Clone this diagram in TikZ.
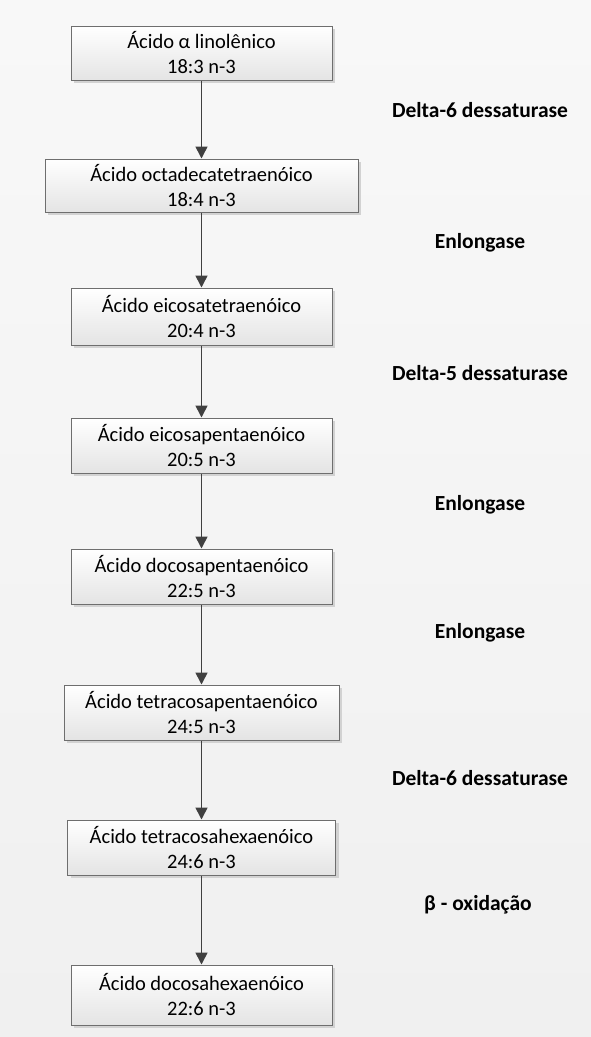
\documentclass[tikz,border=0pt]{standalone}
\usepackage{fontspec}
\setmainfont{Carlito}
\usetikzlibrary{shadows,arrows.meta}
\definecolor{bgtop}{HTML}{F8F8F8}
\definecolor{bgbot}{HTML}{F0F0F0}
\definecolor{boxline}{HTML}{6E6E6E}
\definecolor{boxbot}{HTML}{E4E4E4}
\definecolor{shadowc}{HTML}{D2D2D2}
\definecolor{arrowc}{HTML}{404040}
\begin{document}
\begin{tikzpicture}[x=1pt,y=-1pt,
  box/.style={draw=boxline, line width=1pt, top color=white, bottom color=boxbot,
    align=center, font=\fontsize{20.5}{25}\selectfont, inner sep=0pt,
    drop shadow={shadow xshift=3pt,shadow yshift=-3pt,fill=shadowc,opacity=1}},
  arr/.style={draw=arrowc, line width=1.6pt, -{Triangle[length=12pt,width=12pt]}},
  lab/.style={font=\fontsize{21.5}{25}\selectfont\bfseries, text=black}]
\useasboundingbox (0,0) rectangle (591,1037);
\shade[top color=bgtop, bottom color=bgbot] (0,0) rectangle (591,1037);

\node[box, minimum width=261pt, minimum height=54pt] (b1) at (201.5,53) {Ácido α linolênico\\18:3 n-3};
\node[box, minimum width=313pt, minimum height=53pt] (b2) at (201.5,185.5) {Ácido octadecatetraenóico\\18:4 n-3};
\node[box, minimum width=261pt, minimum height=57pt] (b3) at (201.5,316.5) {Ácido eicosatetraenóico\\20:4 n-3};
\node[box, minimum width=261pt, minimum height=55pt] (b4) at (201.5,445.5) {Ácido eicosapentaenóico\\20:5 n-3};
\node[box, minimum width=261pt, minimum height=55pt] (b5) at (201.5,576.5) {Ácido docosapentaenóico\\22:5 n-3};
\node[box, minimum width=275pt, minimum height=55pt] (b6) at (201.5,712.5) {Ácido tetracosapentaenóico\\24:5 n-3};
\node[box, minimum width=268pt, minimum height=55pt] (b7) at (201.5,847.5) {Ácido tetracosahexaenóico\\24:6 n-3};
\node[box, minimum width=261pt, minimum height=60pt] (b8) at (201.5,995) {Ácido docosahexaenóico\\22:6 n-3};

\draw[arr] (b1.south) -- (b2.north);
\draw[arr] (b2.south) -- (b3.north);
\draw[arr] (b3.south) -- (b4.north);
\draw[arr] (b4.south) -- (b5.north);
\draw[arr] (b5.south) -- (b6.north);
\draw[arr] (b6.south) -- (b7.north);
\draw[arr] (b7.south) -- (b8.north);

\node[lab] (l1) at (480,110) {Delta-6 dessaturase};
\node[lab] (l2) at (480,243) {Enlongase};
\node[lab] (l3) at (480,373) {Delta-5 dessaturase};
\node[lab] (l4) at (480,505) {Enlongase};
\node[lab] (l5) at (480,633) {Enlongase};
\node[lab] (l6) at (480,778) {Delta-6 dessaturase};
\node[lab] (l7) at (478,905) {β - oxidação};
\end{tikzpicture}
\end{document}
